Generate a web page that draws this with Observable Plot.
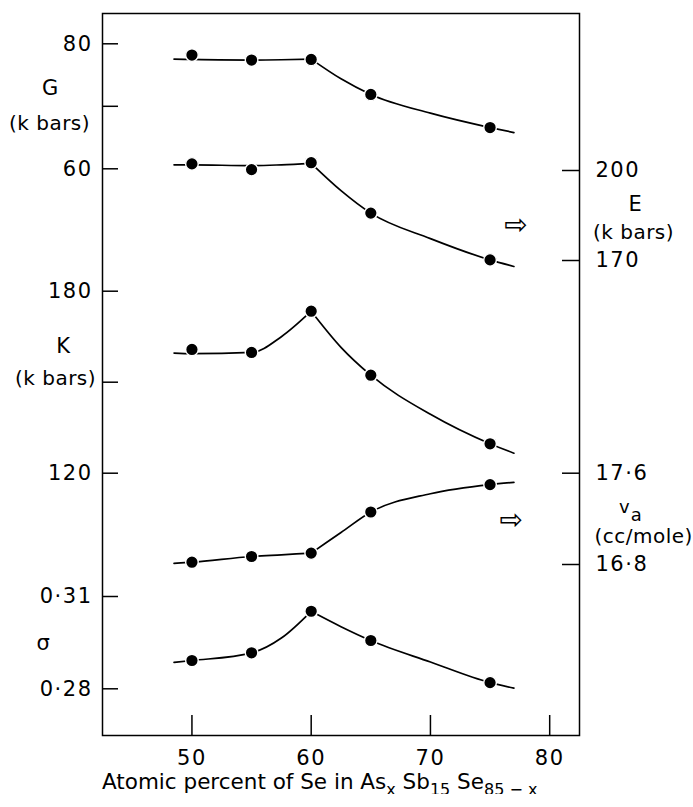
<!DOCTYPE html>
<html><head><meta charset="utf-8">
<script src="https://cdn.jsdelivr.net/npm/d3@7"></script>
<script src="https://cdn.jsdelivr.net/npm/@observablehq/plot@0.6"></script>
<style>
body{margin:0;background:#fff;}
#chart{position:relative;width:693px;height:770px;overflow:hidden;}
#chart svg{position:absolute;left:0;top:0;background:transparent;}
#chart svg g[aria-label$="tick label"]{letter-spacing:1.5px;}
#xtitle{margin-left:102px;font-family:"DejaVu Sans",sans-serif;font-size:21.5px;line-height:24px;white-space:nowrap;color:#000;}
#xtitle sub{font-size:16px;vertical-align:-6px;line-height:0;}
</style></head><body>
<div id="chart"></div>
<div id="xtitle">Atomic percent of Se in As<sub>x</sub> Sb<sub>15</sub> Se<sub>85 − x</sub></div>
<script>
// ---- data ----
const seContent = [50, 55, 60, 65, 75];              // atomic % Se
const gValues = [78.2, 77.4, 77.5, 71.9, 66.6];       // G (k bars)
const eValues = [202.2, 200.3, 202.6, 185.8, 170.2];  // E (k bars)
const kValues = [160.8, 159.8, 173.4, 152.3, 129.7];  // K (k bars)
const vaValues = [16.82, 16.87, 16.90, 17.26, 17.50]; // v_a (cc/mole)
const sigmaValues = [0.2892, 0.2917, 0.3052, 0.2957, 0.2820]; // sigma

// drawn trend curves, left and right of the break at 60
const fitLeftX = [48.5, 50, 55, 57.5, 60];
const fitRightX = [60, 62.5, 65, 70, 75, 77];
const gFitLeft = [77.55, 77.5, 77.4, 77.45, 77.55];
const gFitRight = [77.55, 74.4, 71.9, 68.9, 66.6, 65.8];
const eFitLeft = [201.9, 201.9, 201.6, 201.9, 202.4];
const eFitRight = [202.4, 193.3, 185.8, 177.3, 170.2, 168.0];
const kFitLeft = [159.6, 159.4, 159.8, 165.0, 173.4];
const kFitRight = [173.4, 161.5, 152.3, 139.4, 129.7, 126.6];
const vaFitLeft = [16.81, 16.82, 16.87, 16.885, 16.90];
const vaFitRight = [16.90, 17.08, 17.26, 17.42, 17.50, 17.52];
const sigmaFitLeft = [0.2886, 0.2892, 0.2917, 0.2965, 0.3052];
const sigmaFitRight = [0.3052, 0.3002, 0.2957, 0.2887, 0.2820, 0.2802];

const xTicks = [50, 60, 70, 80];
const gTicks = [60, 70, 80], gLabels = [60, 80];
const eTicks = [170, 200];
const kTicks = [120, 150, 180], kLabels = [120, 180];
const vaTicks = [16.8, 17.6];
const sigmaTicks = [0.28, 0.31];

// ---- layout ----
const W = 693, H = 770, mL = 102, mR = 114, mT = 13, mB = 35;
const plotW = W - mL - mR, plotH = H - mT - mB;
const FONT = '"DejaVu Sans", sans-serif';
const xDomain = [42.5, 82.5];

// y domain so that value v1 sits at pixel p1 and v2 at pixel p2
function domainFrom(v1, p1, v2, p2) {
  const b = (p2 - p1) / (v2 - v1);
  return [v1 + (H - mB - p1) / b, v1 + (mT - p1) / b];
}
const dotsOf = vals => seContent.map((x, i) => ({x, y: vals[i]}));
const fitOf = (left, right) => [
  ...fitLeftX.map((x, i) => ({x, y: left[i], seg: "a"})),
  ...fitRightX.map((x, i) => ({x, y: right[i], seg: "b"}))
];
const dec = d => String(d).replace(".", "·");

function panel(yDomain, marks) {
  const svg = Plot.plot({
    width: W, height: H, marginLeft: mL, marginRight: mR, marginTop: mT, marginBottom: mB,
    x: {domain: xDomain, axis: null},
    y: {domain: yDomain, axis: null},
    style: {background: "transparent", fontFamily: FONT, fontSize: "20px", letterSpacing: "0.5px", overflow: "visible", color: "#000"},
    marks
  });
  document.getElementById("chart").appendChild(svg);
}
function seriesMarks(vals, left, right) {
  return [
    Plot.line(fitOf(left, right), {x: "x", y: "y", z: "seg", curve: "monotone-x", stroke: "#000", strokeWidth: 1.7}),
    Plot.dot(dotsOf(vals), {x: "x", y: "y", r: 6.3, fill: "#000", stroke: "#fff", strokeWidth: 1.4})
  ];
}
function leftAxis(ticks, labels, fmt) {
  return [
    Plot.tickY(ticks, {y: d => d, insetRight: plotW - 16, stroke: "#000", strokeWidth: 1.5}),
    Plot.axisY({ticks: labels, anchor: "left", tickSize: 0, tickPadding: 10, tickFormat: fmt, label: null, fontSize: 21, fill: "#000"})
  ];
}
function rightAxis(ticks, fmt) {
  return [
    Plot.tickY(ticks, {y: d => d, insetLeft: plotW - 17, stroke: "#000", strokeWidth: 1.5}),
    Plot.axisY({ticks, anchor: "right", tickSize: 0, tickPadding: 16, tickFormat: fmt, label: null, fontSize: 21, fill: "#000"})
  ];
}
const label = (t, frameAnchor, y, dx, anchor = "middle", fontSize = 20) =>
  Plot.text([t], {frameAnchor, y: () => y, dx, text: d => d, textAnchor: anchor, fontSize, fill: "#000"});
const arrow = (x, y) => Plot.text(["⇨"], {x: () => x, y: () => y, text: d => d, fontSize: 28, fill: "#000"});

// base: frame and x axis
panel([0, 1], [
  Plot.frame({stroke: "#000", strokeWidth: 1.5}),
  Plot.tickX(xTicks, {x: d => d, insetTop: plotH - 20, stroke: "#000", strokeWidth: 1.5}),
  Plot.axisX({ticks: xTicks, tickSize: 0, tickPadding: 15, label: null, fontSize: 21, fill: "#000"})
]);

// G (left axis)
panel(domainFrom(80, 43.3, 60, 168.3), [
  ...leftAxis(gTicks, gLabels, d => String(d)),
  label("G", "left", 72.85, -52, "middle", 21),
  label("(k bars)", "left", 67.3, -53),
  ...seriesMarks(gValues, gFitLeft, gFitRight)
]);

// E (right axis)
panel(domainFrom(200, 170, 170, 260), [
  ...rightAxis(eTicks, d => String(d)),
  label("E", "right", 188.7, 56, "middle", 21),
  label("(k bars)", "right", 179.3, 54),
  arrow(77.2, 181.7),
  ...seriesMarks(eValues, eFitLeft, eFitRight)
]);

// K (left axis)
panel(domainFrom(180, 290.7, 120, 472.7), [
  ...leftAxis(kTicks, kLabels, d => String(d)),
  label("K", "left", 161.8, -39, "middle", 21),
  label("(k bars)", "left", 151.2, -47),
  ...seriesMarks(kValues, kFitLeft, kFitRight)
]);

// v_a (right axis)
panel(domainFrom(17.6, 472.7, 16.8, 564), [
  ...rightAxis(vaTicks, d => dec(d.toFixed(1))),
  label("v", "right", 17.3, 45, "middle", 18),
  label("a", "right", 17.235, 57, "middle", 18),
  label("(cc/mole)", "right", 17.045, 15, "start", 20),
  arrow(76.8, 17.19),
  ...seriesMarks(vaValues, vaFitLeft, vaFitRight)
]);

// sigma (left axis)
panel(domainFrom(0.31, 596, 0.28, 688.3), [
  ...leftAxis(sigmaTicks, sigmaTicks, d => dec(d.toFixed(2))),
  label("σ", "left", 0.2947, -59, "middle", 21),
  ...seriesMarks(sigmaValues, sigmaFitLeft, sigmaFitRight)
]);
</script>
</body></html>
